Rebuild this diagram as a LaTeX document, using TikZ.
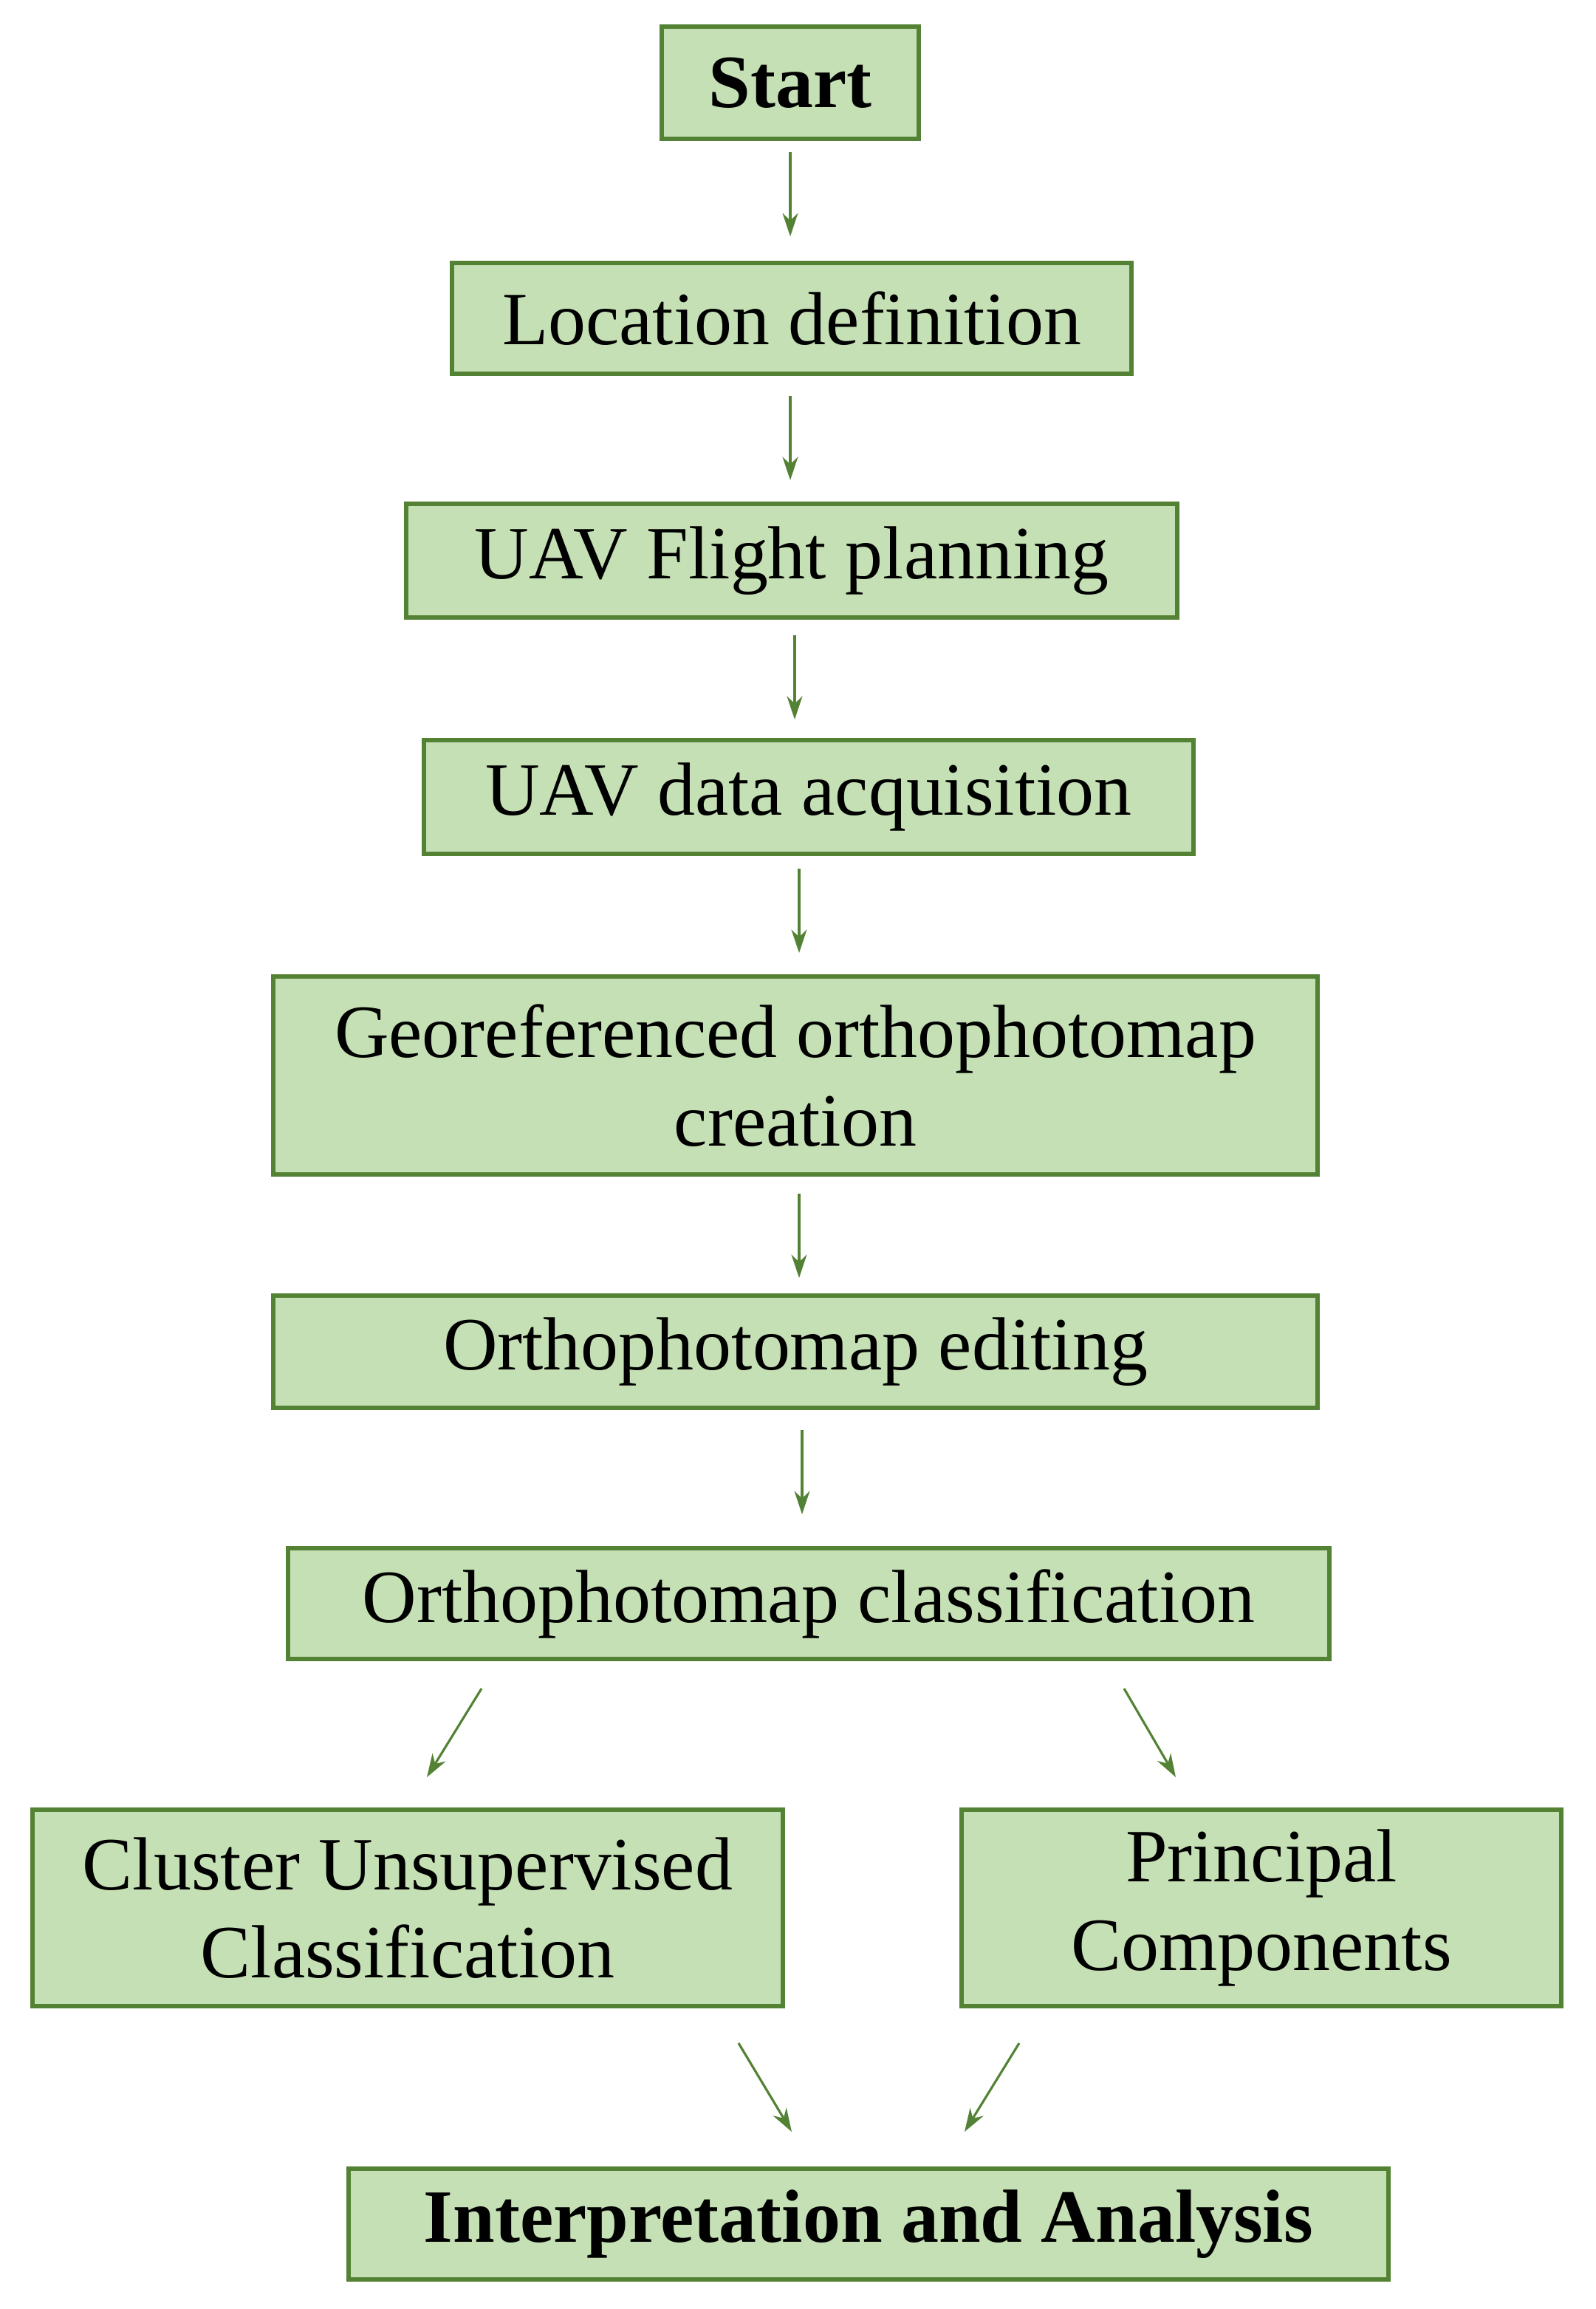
\documentclass[tikz,border=0pt]{standalone}
\usepackage{fontspec}
\setmainfont{Liberation Serif}
\usetikzlibrary{arrows.meta}
\definecolor{edge}{HTML}{548235}
\definecolor{boxfill}{HTML}{C5E0B4}
\begin{document}
\begin{tikzpicture}[x=0.02cm,y=-0.02cm,
  box/.style={draw=edge,fill=boxfill,line width=1.8pt,align=center,inner sep=0pt,
    font=\fontsize{29}{34}\selectfont},
  arr/.style={draw=edge,line width=0.9pt,-{Stealth[length=9pt,width=6pt]}}]
\useasboundingbox (0,0) rectangle (1080.5,1563);
\node[box,minimum width=174*0.02cm,minimum height=76*0.02cm,font=\fontsize{29}{34}\selectfont\bfseries] (s) at (535,56) {Start};
\node[box,minimum width=460*0.02cm,minimum height=75*0.02cm] (l) at (536,215.5) {Location definition};
\node[box,minimum width=522*0.02cm,minimum height=77*0.02cm] (f) at (536,379.5) {UAV Flight planning};
\node[box,minimum width=521*0.02cm,minimum height=77*0.02cm] (d) at (547.5,539.5) {UAV data acquisition};
\node[box,minimum width=707*0.02cm,minimum height=134*0.02cm] (g) at (538.5,728) {Georeferenced orthophotomap\\creation};
\node[box,minimum width=707*0.02cm,minimum height=76*0.02cm] (e) at (538.5,915) {Orthophotomap editing};
\node[box,minimum width=705*0.02cm,minimum height=75*0.02cm] (c) at (547.5,1085.5) {Orthophotomap classification};
\node[box,minimum width=508*0.02cm,minimum height=133*0.02cm] (u) at (276,1291.5) {Cluster Unsupervised\\Classification};
\node[box,minimum width=406*0.02cm,minimum height=133*0.02cm] (p) at (854,1291.5) {Principal\\Components};
\node[box,minimum width=704*0.02cm,minimum height=75*0.02cm,font=\fontsize{29}{34}\selectfont\bfseries] (i) at (588,1505.5) {Interpretation and Analysis};
\coordinate (a1) at (535,103); \coordinate (b1) at (535,160);
\coordinate (a2) at (535,268); \coordinate (b2) at (535,325);
\coordinate (a3) at (538,430); \coordinate (b3) at (538,487);
\coordinate (a4) at (541,588); \coordinate (b4) at (541,645);
\coordinate (a5) at (541,808); \coordinate (b5) at (541,865);
\coordinate (a6) at (543,968); \coordinate (b6) at (543,1025);
\coordinate (a7) at (326,1143); \coordinate (b7) at (289,1203);
\coordinate (a8) at (761,1143); \coordinate (b8) at (796,1203);
\coordinate (a9) at (500,1383); \coordinate (b9) at (536,1443);
\coordinate (a10) at (690,1383); \coordinate (b10) at (653,1443);
\foreach \k in {1,...,10} {\draw[arr] (a\k) -- (b\k);}
\end{tikzpicture}
\end{document}
